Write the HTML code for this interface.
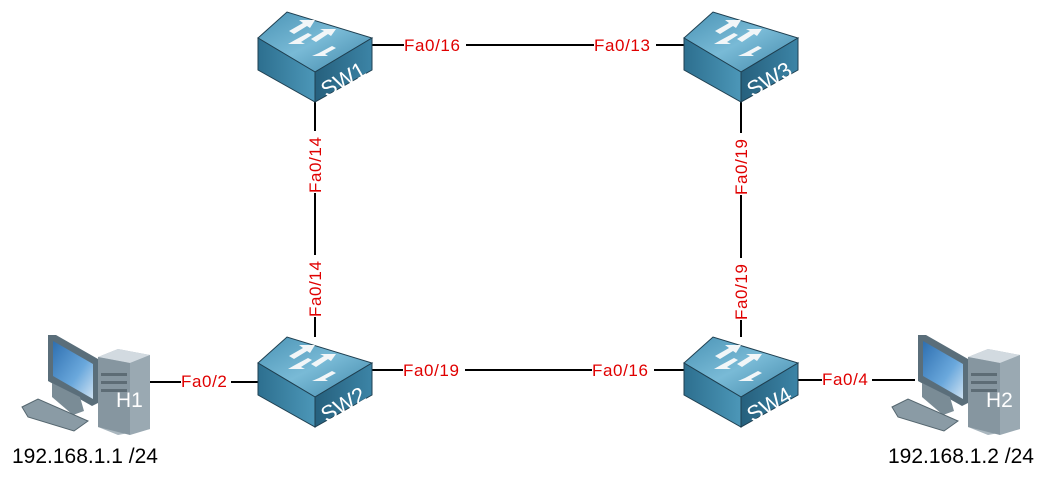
<!DOCTYPE html>
<html><head><meta charset="utf-8"><style>
html,body{margin:0;padding:0;background:#fff;width:1055px;height:481px;overflow:hidden}
text{font-family:"Liberation Sans",sans-serif}
</style></head><body>
<svg width="1055" height="481" viewBox="0 0 1055 481" xmlns="http://www.w3.org/2000/svg">
<defs>
<linearGradient id="top" x1="0" y1="0" x2="1" y2="1"><stop offset="0" stop-color="#4a93b5"/><stop offset=".5" stop-color="#79bad6"/><stop offset="1" stop-color="#3f86a8"/></linearGradient>
<linearGradient id="lf" x1="0" y1="0" x2="1" y2="0"><stop offset="0" stop-color="#2d6f8f"/><stop offset="1" stop-color="#4c97b8"/></linearGradient>
<linearGradient id="rf" x1="0" y1="0" x2="1" y2="0"><stop offset="0" stop-color="#26607d"/><stop offset="1" stop-color="#3c84a6"/></linearGradient>
<linearGradient id="scr" x1="0" y1="0" x2="1" y2="1"><stop offset="0" stop-color="#2e6fb0"/><stop offset=".6" stop-color="#6aa8dc"/><stop offset="1" stop-color="#cfe3f3"/></linearGradient>
<g id="sw">
<polygon points="-57,-7 -28,-33 57,-7 0,27" fill="url(#top)" stroke="#1f3f50" stroke-width="1"/>
<polygon points="-57,-7 0,27 0,57 -57,25" fill="url(#lf)" stroke="#1f3f50" stroke-width="1"/>
<polygon points="0,27 57,-7 57,25 0,57" fill="url(#rf)" stroke="#1f3f50" stroke-width="1"/>
<g fill="#f2f6f8">
<polygon points="-26,-14 -12,-22 -16,-25 0,-25 -5,-17 -8,-19 -21,-11"/>
<polygon points="-4,-6 9,-14 5,-16 21,-16 16,-9 13,-11 1,-3"/>
<polygon points="-20,-5 -7,-12 -3,-10 -14,-3 -10,-1 -27,-1"/>
<polygon points="4,8 17,1 21,3 10,9 13,11 -3,11"/>
</g>
</g>
<g id="host">
<polygon points="30,0 38,0 80,24 80,68 74,71 30,46" fill="#5a6e7a"/>
<polygon points="35,6 75,29 75,64 35,41" fill="url(#scr)"/>
<polygon points="34,48 62,62 66,76 55,80 34,62" fill="#7a8c96"/>
<polygon points="4,72 20,64 70,86 56,96 10,82" fill="#8a9ba5" stroke="#55666f" stroke-width="1"/>
<polygon points="80,22 100,14 132,20 132,94 100,100 80,92" fill="#a9b6be"/>
<polygon points="80,22 100,14 132,20 112,28" fill="#d2dae0"/>
<polygon points="80,22 112,28 112,100 80,92" fill="#8696a0"/>
<polygon points="112,28 132,20 132,94 112,100" fill="#9aa9b2"/>
<rect x="83" y="38" width="26" height="3" fill="#5d6c75"/>
<rect x="83" y="46" width="26" height="3" fill="#5d6c75"/>
<rect x="83" y="54" width="26" height="3" fill="#5d6c75"/>
</g>
</defs>
<g stroke="#000" stroke-width="2">
<line x1="372" y1="45" x2="684" y2="45"/>
<line x1="372" y1="370" x2="684" y2="370"/>
<line x1="315" y1="102" x2="315" y2="337"/>
<line x1="741" y1="102" x2="741" y2="337"/>
<line x1="150" y1="382" x2="258" y2="382"/>
<line x1="798" y1="380" x2="915" y2="380"/>
</g>
<g fill="#fff">
<rect x="404" y="34" width="62" height="22"/><rect x="594" y="34" width="62" height="22"/>
<rect x="403" y="359" width="62" height="22"/><rect x="592" y="359" width="62" height="22"/>
<rect x="304" y="131" width="22" height="62"/><rect x="304" y="255" width="22" height="62"/>
<rect x="730" y="133" width="22" height="62"/><rect x="730" y="258" width="22" height="62"/>
<rect x="181" y="371" width="50" height="22"/><rect x="822" y="369" width="50" height="22"/>
</g>
<use href="#sw" x="315" y="45"/>
<use href="#sw" x="741" y="45"/>
<use href="#sw" x="315" y="370"/>
<use href="#sw" x="741" y="370"/>
<g fill="#fff" font-size="22">
<text x="347" y="86" transform="rotate(-30 347 86)" text-anchor="middle">SW1</text>
<text x="773" y="86" transform="rotate(-30 773 86)" text-anchor="middle">SW3</text>
<text x="347" y="411" transform="rotate(-30 347 411)" text-anchor="middle">SW2</text>
<text x="773" y="411" transform="rotate(-30 773 411)" text-anchor="middle">SW4</text>
</g>
<use href="#host" x="18" y="335"/>
<use href="#host" x="888" y="335"/>
<g fill="#fff" font-size="21"><text x="116" y="407">H1</text><text x="986" y="407">H2</text></g>
<g fill="#e00000" font-size="17" letter-spacing="0.6">
<text x="404" y="51">Fa0/16</text><text x="594" y="51">Fa0/13</text>
<text x="403" y="376">Fa0/19</text><text x="592" y="376">Fa0/16</text>
<text x="181" y="387">Fa0/2</text><text x="822" y="385">Fa0/4</text>
<text transform="translate(321 193) rotate(-90)">Fa0/14</text>
<text transform="translate(321 317) rotate(-90)">Fa0/14</text>
<text transform="translate(747 195) rotate(-90)">Fa0/19</text>
<text transform="translate(747 320) rotate(-90)">Fa0/19</text>
</g>
<g fill="#000" font-size="21">
<text x="12" y="463">192.168.1.1 /24</text>
<text x="888" y="463">192.168.1.2 /24</text>
</g>
</svg>
</body></html>
